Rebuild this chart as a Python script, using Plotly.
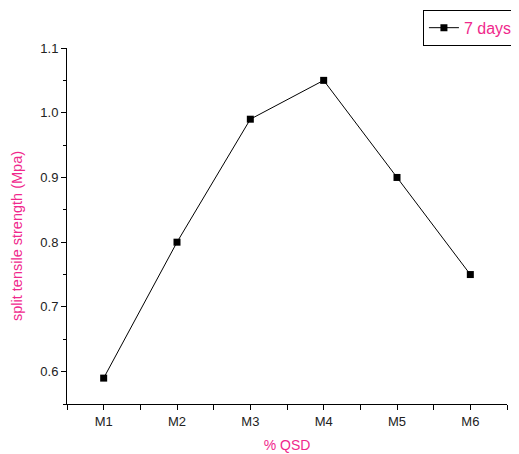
import plotly.graph_objects as go

categories = ["M1", "M2", "M3", "M4", "M5", "M6"]
values_7days = [0.59, 0.80, 0.99, 1.05, 0.90, 0.75]
series_name = "7 days"
x_title = "% QSD"
y_title = "split tensile strength (Mpa)"
PINK = "#F0288C"

x_idx = list(range(len(categories)))

fig = go.Figure()
fig.add_trace(go.Scatter(
    x=x_idx, y=values_7days, mode="lines+markers", name=series_name,
    line=dict(color="black", width=1),
    marker=dict(symbol="square", size=7, color="black"),
))

# page body has an 8px default margin; compensate so plot area lands where the reference has it
fig.update_layout(
    width=511, height=446,
    margin=dict(l=59, r=12, t=40, b=50, autoexpand=False),
    plot_bgcolor="white", paper_bgcolor="white",
    font=dict(family="Liberation Sans, Arial, sans-serif", size=12, color="#222"),
    showlegend=True,
    legend=dict(xref="container", yref="container", x=0.812, y=0.996,
                xanchor="left", yanchor="top",
                bordercolor="black", borderwidth=1, bgcolor="white",
                font=dict(color=PINK, size=16),
                itemwidth=30, tracegroupgap=0,
                ),
    xaxis=dict(
        range=[-0.5, 5.5], tickmode="array", tickvals=x_idx, ticktext=categories,
        showgrid=False, zeroline=False, showline=True, linecolor="black", linewidth=1,
        ticks="outside", ticklen=5, tickcolor="black", automargin=False,
        tickfont=dict(size=13),
        minor=dict(tickmode="array", tickvals=[-0.5, 0.5, 1.5, 2.5, 3.5, 4.5, 5.5],
                   ticks="outside", ticklen=5, tickcolor="black"),
        title=dict(text=x_title, font=dict(color=PINK, size=14), standoff=12),
    ),
    yaxis=dict(
        range=[0.55, 1.1], tickmode="array", tickvals=[0.6, 0.7, 0.8, 0.9, 1.0, 1.1],
        ticktext=["0.6", "0.7", "0.8", "0.9", "1.0", "1.1"],
        showgrid=False, zeroline=False, showline=True, linecolor="black", linewidth=1,
        ticks="outside", ticklen=5, tickcolor="black", automargin=False,
        tickfont=dict(size=13),
        minor=dict(tickmode="array", tickvals=[0.55, 0.65, 0.75, 0.85, 0.95, 1.05],
                   ticks="outside", ticklen=3, tickcolor="black"),
    ),
    annotations=[dict(
        text=y_title, textangle=-90, showarrow=False,
        xref="paper", yref="paper",
        x=(17 - 67) / 440, y=(404 - 236) / 356,
        xanchor="center", yanchor="middle",
        font=dict(color=PINK, size=14.5),
    )],
)

fig.write_html("out.html")
